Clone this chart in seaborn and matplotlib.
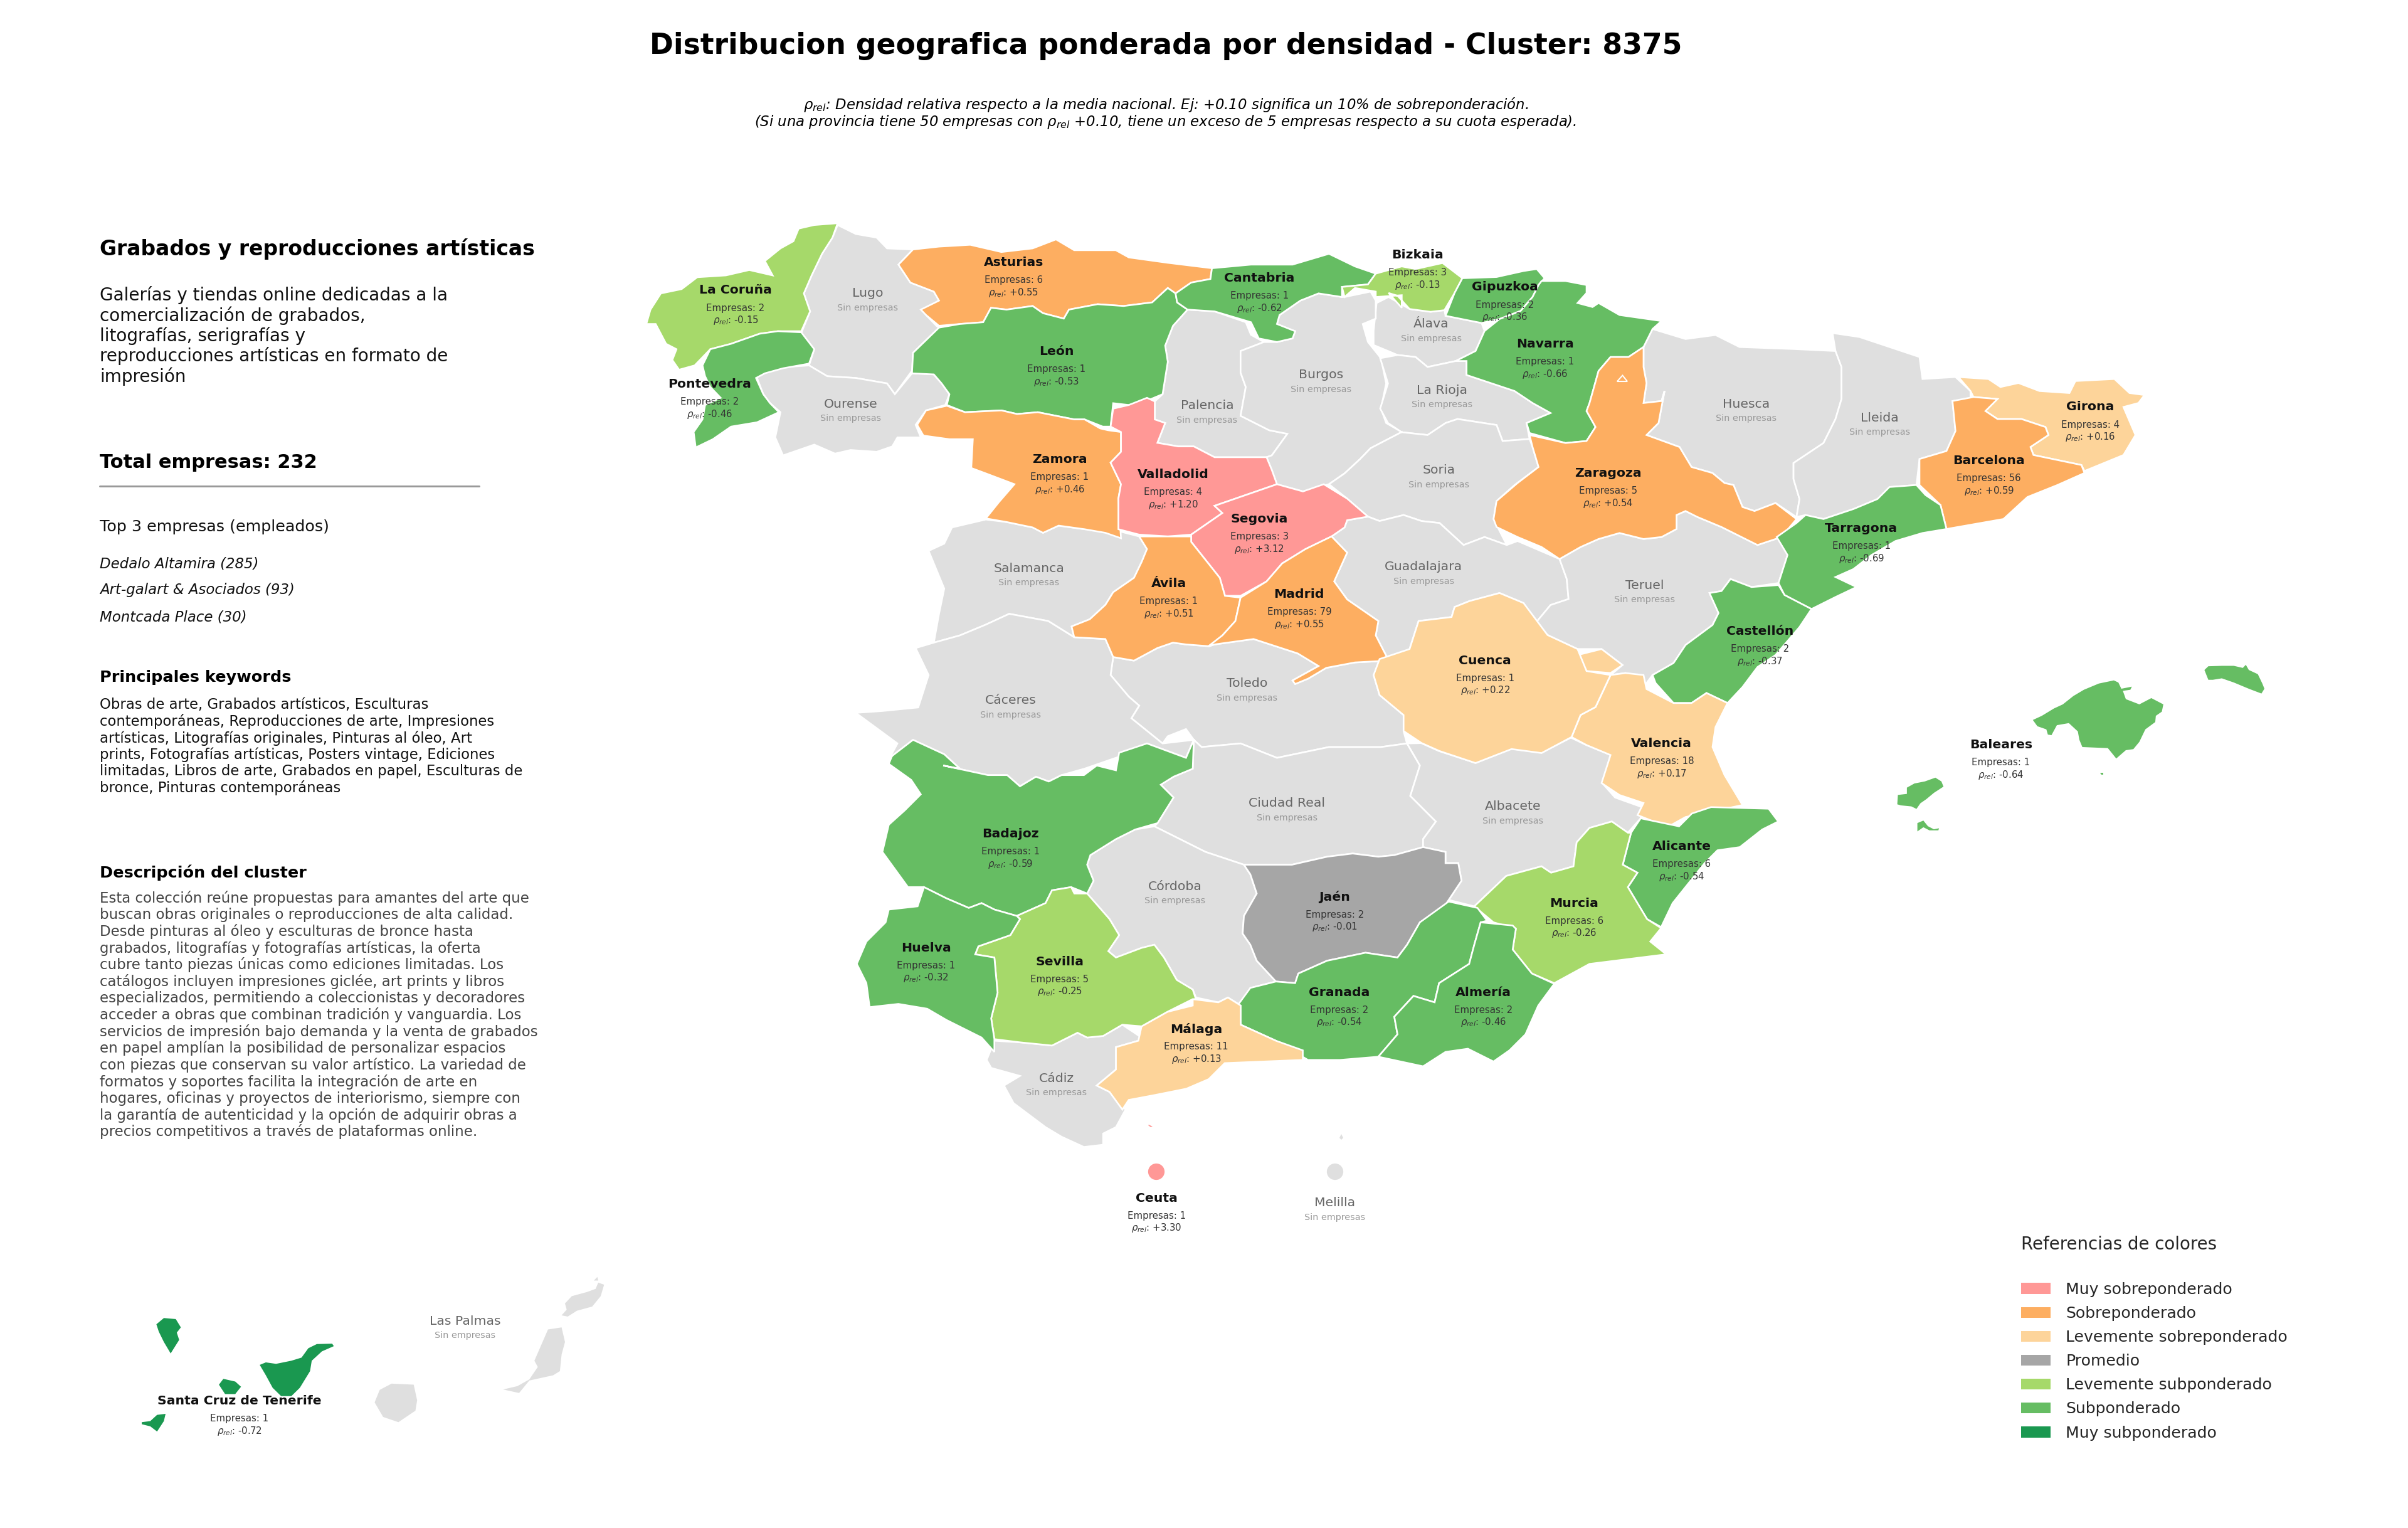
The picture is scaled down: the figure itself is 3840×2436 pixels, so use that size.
"""Distribucion geografica por provincia - cluster 8375."""
import matplotlib
matplotlib.use("Agg")
import matplotlib.pyplot as plt
import pandas as pd
import seaborn as sns
from matplotlib.patches import Patch


def z1(pts):
    return [(1000 + x * 1300 / 1568, 330 + y * 900 / 1568) for x, y in pts]


def z2(pts):
    return [(2200 + x * 1500 / 1568, 330 + y * 1000 / 1568) for x, y in pts]


def z3(pts):
    return [(1300 + x * 1600 / 1568, 1200 + y * 800 / 1568) for x, y in pts]


def zb(pts):
    return [(2950 + x * 750 / 1568, 1020 + y * 0.332) for x, y in pts]


def zc(pts):
    return [(180 + x * 850 / 1568, 2000 + y * 0.332) for x, y in pts]


LA_CORUNA = z1([(405,45),(395,85),(375,130),(355,190),(340,240),(352,290),(335,345),(290,345),(255,352),(200,380),(160,395),(130,440),(100,452),(87,425),(95,395),(75,380),(55,325),(37,325),(45,285),(65,240),(105,228),(135,195),(190,190),(235,175),(280,190),(265,150),(295,115),(320,95),(330,60),(360,50)])
PONTEVEDRA = z1([(335,348),(360,395),(350,435),(300,448),(265,462),(248,475),(262,520),(275,545),(292,570),(250,598),(200,610),(165,645),(132,668),(128,625),(145,590),(150,550),(180,530),(160,500),(150,470),(145,440),(160,395),(200,380),(255,352),(290,345)])
LUGO = z1([(405,50),(440,75),(480,85),(500,115),(550,118),(522,160),(545,210),(590,235),(600,260),(570,285),(575,300),(595,330),(600,335),(575,370),(550,405),(548,455),(515,520),(500,490),(440,475),(385,470),(350,440),(360,395),(335,350),(352,290),(340,240),(355,190),(375,130),(395,85)])
OURENSE = z1([(250,475),(265,445),(300,445),(350,440),(385,470),(440,475),(500,490),(515,520),(548,462),(590,465),(605,490),(620,520),(612,550),(575,565),(555,605),(565,640),(520,640),(510,665),(480,680),(430,675),(400,685),(360,660),(300,690),(285,640),(295,570),(275,545),(262,520)])
ASTURIAS = z1([(550,118),(600,110),(660,105),(720,125),(780,115),(825,90),(860,120),(940,120),(965,140),(1040,155),(1125,170),(1122,200),(1085,210),(1055,240),(1040,225),(1010,265),(955,275),(905,270),(850,285),(840,310),(800,295),(780,275),(730,285),(700,280),(685,320),(640,325),(600,330),(575,300),(565,285),(600,260),(590,235),(545,210),(522,160)])
LEON = z1([(600,335),(640,325),(685,320),(700,280),(730,285),(780,275),(800,295),(840,310),(850,285),(905,270),(955,275),(1010,265),(1040,225),(1055,240),(1058,265),(1078,285),(1050,330),(1035,385),(1040,430),(1030,520),(1005,535),(965,550),(935,545),(930,610),(915,610),(880,590),(860,590),(790,570),(750,575),(720,565),(650,570),(615,550),(620,520),(605,490),(590,465),(548,462),(550,405),(575,370)])
ZAMORA = z1([(615,552),(650,570),(720,565),(750,575),(790,570),(860,590),(880,590),(910,615),(925,620),(950,625),(950,680),(930,710),(950,770),(945,810),(950,920),(920,905),(880,895),(830,885),(800,905),(780,890),(730,875),(690,865),(715,820),(745,770),(690,740),(662,725),(665,645),(620,645),(570,635),(558,605),(575,565)])
VALLADOLID = z1([(935,560),(965,550),(1000,530),(1015,540),(1015,590),(1035,600),(1020,655),(1060,665),(1090,665),(1130,695),(1230,695),(1240,730),(1250,770),(1190,800),(1130,830),(1145,850),(1085,910),(1040,915),(985,910),(945,895),(945,810),(950,770),(930,710),(950,680),(950,625),(930,610)])
SEGOVIA = z1([(1130,830),(1190,800),(1250,770),(1300,790),(1340,770),(1385,810),(1425,860),(1385,870),(1380,890),(1355,915),(1305,950),(1260,990),(1230,1040),(1180,1080),(1150,1080),(1140,1030),(1085,930),(1085,910),(1145,850)])
AVILA = z1([(985,915),(1040,915),(1085,915),(1085,930),(1140,1030),(1150,1080),(1180,1085),(1170,1150),(1145,1190),(1120,1220),(1075,1215),(1050,1210),(1020,1225),(975,1260),(935,1250),(920,1200),(860,1195),(855,1165),(890,1145),(920,1105),(935,1070),(975,1030),(990,985),(1000,950)])
MADRID = z1([(1355,915),(1385,960),(1360,1040),(1385,1090),(1445,1150),(1440,1190),(1465,1260),(1400,1265),(1345,1280),(1310,1310),(1285,1325),(1280,1315),(1330,1275),(1290,1240),(1205,1200),(1130,1215),(1118,1220),(1145,1190),(1170,1150),(1180,1085),(1230,1040),(1260,990),(1305,950)])
SALAMANCA = z1([(690,868),(730,875),(780,890),(800,905),(830,885),(880,895),(945,900),(985,915),(1000,950),(990,985),(975,1030),(935,1070),(920,1105),(890,1145),(855,1165),(860,1195),(810,1150),(735,1130),(690,1160),(640,1190),(590,1210),(600,1130),(610,1060),(580,955),(610,935),(625,890)])
PALENCIA = z1([(1078,285),(1130,290),(1190,320),(1200,355),(1225,375),(1180,400),(1180,460),(1190,500),(1180,580),(1235,620),(1270,630),(1240,690),(1230,695),(1130,695),(1090,665),(1060,665),(1020,655),(1035,600),(1015,590),(1015,540),(1030,520),(1040,430),(1035,385),(1050,330)])
CANTABRIA = z1([(1125,170),(1200,160),(1280,160),(1350,130),(1400,165),(1440,185),(1425,215),(1375,222),(1375,250),(1330,240),(1295,260),(1255,300),(1250,325),(1285,345),(1280,365),(1250,375),(1215,365),(1200,320),(1130,290),(1078,285),(1058,265),(1055,240),(1085,210),(1122,200)])
BIZKAIA = z1([(1375,222),(1425,215),(1440,185),(1490,165)]) + z2([(60,155),(105,140),(138,178),(125,215),(108,258),(85,262),(50,255),(30,222),(15,215)]) + z1([(1490,280),(1490,245),(1440,250),(1440,235),(1400,225),(1380,250)])
GIPUZKOA = z2([(125,215),(138,178),(195,175),(240,160),(262,155),(275,178),(265,195),(255,225),(235,260),(200,280),(170,290),(110,272)])
NAVARRA = z2([(270,185),(310,185),(345,195),(345,215),(330,240),(355,250),(365,240),(400,270),(470,285),(455,305),(440,350),(415,375),(385,375),(365,410),(350,490),(345,510),(360,550),(345,585),(310,590),(250,565),(245,540),(285,515),(255,490),(225,460),(145,420),(145,385),(127,385),(160,360),(175,310),(200,280),(235,260),(255,225),(265,195)])
NAVARRA_PETILLA = z2([(396,436),(405,421),(413,436)])
ALAVA = z2([(15,225),(50,255),(85,262),(108,258),(110,272),(170,290),(175,310),(160,360),(127,385),(80,400),(60,375),(30,370),(-10,345),(-10,310),(-5,240)])
BURGOS = z1([(1225,375),(1250,375),(1280,365),(1285,345),(1250,325),(1255,300),(1295,260),(1330,240),(1375,250),(1380,250),(1430,235),(1440,260),(1440,310),(1415,325),(1425,375),(1450,420),(1460,490),(1450,560),(1460,600),(1490,625),(1430,670),(1410,700),(1380,740),(1350,770),(1300,790),(1250,770),(1240,730),(1230,695),(1240,690),(1270,630),(1235,620),(1180,580),(1190,500),(1180,460),(1180,400)])
LA_RIOJA = z2([(1,378),(30,370),(60,375),(80,400),(127,385),(145,385),(145,420),(225,460),(255,490),(285,515),(245,540),(250,580),(205,585),(195,545),(130,530),(110,540),(80,570),(37,563),(14,540),(1,504),(14,441)])
SORIA = z2([(37,563),(80,570),(110,540),(130,530),(195,545),(205,585),(250,580),(255,600),(265,650),(225,695),(195,735),(190,780),(212,845),(175,825),(140,845),(100,790),(70,785),(40,770),(0,785)]) + z1([(1425,860),(1385,810),(1350,770),(1380,740),(1410,700),(1430,670),(1490,625)])
GUADALAJARA = z1([(1425,860),(1385,870),(1380,890),(1355,915),(1385,960),(1360,1040),(1385,1090),(1445,1150),(1440,1190),(1465,1260)]) + z2([(50,1105),(65,1035),(120,1025),(125,1000),(150,985),(200,965),(240,990),(260,1040),(285,995),(315,980),(312,930),(300,880),(230,835),(212,845),(175,825),(140,845),(100,790),(70,785),(40,770),(0,785)])
ZARAGOZA = z2([(440,350),(440,400),(445,440),(440,490),(470,485),(475,460),(465,540),(445,570),(500,600),(520,650),(555,665),(575,690),(590,695),(605,750),(625,760),(660,740),(695,780),(670,825),(630,845),(570,800),(530,775),(510,760),(495,770),(495,805),(470,825),(440,830),(400,815),(365,830),(335,850),(300,880),(270,850),(230,825),(195,800),(190,780),(195,735),(230,690),(265,650),(255,600),(250,570),(310,590),(345,585),(360,550),(345,510),(350,490),(365,410),(385,375),(415,375)])
HUESCA = z2([(455,305),(510,330),(560,320),(600,350),(690,355),(760,360),(770,400),(770,480),(760,530),(740,590),(690,640),(690,680),(700,730),(695,775),(660,740),(625,760),(605,750),(590,695),(575,690),(555,665),(520,650),(500,600),(445,570),(465,540),(475,460),(470,485),(440,490),(445,440),(440,400),(440,350)])
LLEIDA = z2([(755,315),(800,325),(860,355),(900,375),(905,430),(960,425),(985,460),(985,480),(955,485),(960,560),(945,610),(900,630),(895,695),(850,700),(830,730),(790,755),(740,780),(710,770),(695,775),(700,730),(690,680),(690,640),(740,590),(760,530),(770,480),(770,400),(760,360)])
GIRONA = z2([(965,425),(1015,430),(1035,450),(1065,440),(1100,460),(1150,465),(1160,435),(1225,430),(1250,465),(1275,470),(1265,490),(1240,500),(1260,570),(1240,620),(1175,660),(1170,645),(1090,620),(1085,600),(1115,570),(1110,550),(1070,530),(1030,530),(1010,510),(1030,480),(990,475),(985,460)])
BARCELONA = z2([(955,485),(990,475),(1030,480),(1010,510),(1030,530),(1070,530),(1110,550),(1115,570),(1085,600),(1090,620),(1170,645),(1175,665),(1130,695),(1080,725),(1040,780),(945,805),(935,745),(900,695),(900,630),(945,610),(960,560)])
TARRAGONA = z2([(710,770),(740,780),(790,755),(830,730),(850,700),(895,695),(910,720),(935,745),(945,805),(905,815),(860,835),(820,870),(790,905),(760,925),(795,950),(760,975),(720,1005),(675,970),(665,940),(680,870),(662,825),(695,790)])
TERUEL = z2([(300,880),(335,850),(365,830),(400,815),(440,830),(470,825),(495,805),(495,770),(510,760),(530,775),(570,800),(630,845),(670,825),(680,870),(665,940),(620,950),(585,930),(570,960),(550,965),(565,1015),(555,1045),(510,1095),(490,1140),(455,1170),(440,1200),(410,1165),(385,1170),(405,1145),(370,1105),(330,1105),(280,1070),(260,1040),(285,995),(315,980),(312,930)])
CASTELLON = z2([(585,930),(620,950),(665,945),(675,970),(720,1005),(700,1050),(660,1120),(630,1150),(605,1200),(580,1240),(545,1215),(520,1240),(490,1240),(460,1190),(455,1170),(490,1140),(510,1095),(555,1045),(565,1015),(550,965),(570,960)])
VALENCIA = z2([(385,1170),(410,1165),(440,1170),(445,1205),(490,1240),(520,1240),(545,1215),(580,1240),(560,1300),(555,1350),(575,1420),(605,1495),(510,1525),(480,1550),(430,1520),(440,1490),(400,1470),(370,1440),(385,1370),(345,1345),(320,1325),(335,1270),(360,1250)])
VALENCIA_ADEMUZ = z2([(330,1120),(370,1105),(405,1145),(385,1165),(345,1160)])
CUENCA = z2([(0,1130),(50,1105),(65,1035),(120,1025),(125,1000),(150,985),(200,965),(240,990),(280,1070),(330,1105),(345,1160),(385,1170),(360,1250),(335,1270),(320,1325),(270,1365),(220,1355),(160,1390),(100,1360),(70,1340),(40,1310),(40,1270),(0,1220),(-10,1170)])
TOLEDO = z1([(935,1250),(975,1260),(1020,1225),(1050,1210),(1075,1215),(1120,1220),(1130,1215),(1205,1200),(1290,1240),(1330,1275),(1280,1315),(1285,1325),(1310,1310),(1345,1280),(1400,1265),(1465,1260)]) + z2([(-10,1170),(0,1220),(40,1270),(40,1310)]) + z1([(1500,1490),(1450,1500),(1350,1500),(1300,1515),(1250,1530),(1180,1490),(1105,1500),(1090,1480),(1075,1450),(1040,1470),(1030,1490),(970,1420),(985,1385),(965,1360),(930,1300)])
CACERES = z1([(590,1210),(640,1190),(690,1160),(735,1130),(810,1150),(860,1195),(920,1200),(935,1250),(930,1300),(965,1360),(985,1385),(970,1420),(1030,1490),(1090,1480),(1075,1530),(1000,1490),(985,1510),(940,1530),(880,1560)]) + z3([(385,70),(365,90),(345,75),(320,105),(300,70),(270,70),(200,40),(197,10)]) + z1([(640,1560),(610,1520),(550,1480),(505,1530),(520,1490),(440,1405),(490,1400),(560,1390),(580,1300),(555,1225)])
BADAJOZ = z1([(505,1530),(550,1480),(610,1520),(640,1560)]) + z3([(200,40),(270,70),(300,70),(320,105),(345,75),(365,90),(385,70),(420,70),(440,40),(470,55),(475,0)]) + z1([(1000,1490),(1075,1530),(1090,1480)]) + z3([(590,50),(560,75),(540,100),(560,140),(535,220),(500,240),(470,270),(430,320),(425,350),(435,400),(425,440),(400,420),(370,430),(360,470),(315,510),(280,490),(260,470),(240,485),(205,455),(170,420),(145,420),(105,310),(115,225),(140,180),(165,130),(150,85),(115,35),(120,10)])
CIUDAD_REAL = z1([(1090,1480),(1105,1500),(1180,1490),(1250,1530),(1300,1515),(1350,1500),(1450,1500),(1500,1490)]) + z3([(945,40),(930,135),(970,215),(950,270),(950,295),(905,320),(880,325),(840,315),(800,325),(745,350),(670,350),(610,310),(560,260),(530,230),(535,220),(560,140),(540,100),(560,75),(590,50)])
ALBACETE = z3([(925,-29),(945,40),(930,135),(970,215),(950,270),(950,295),(985,310),(985,345),(1005,345),(1010,400),(990,460),(1030,480),(1080,385),(1135,355),(1150,375),(1185,355),(1190,280),(1210,235),(1245,215),(1270,250),(1290,205),(1292,170),(1250,140),(1230,95),(1243,7),(1205,-24),(1181,-47),(1135,0),(1088,-12),(1032,32),(975,-5),(947,-30)])
ALICANTE = z3([(1290,205),(1350,230),(1370,190),(1400,170),(1490,175),(1505,215),(1480,240),(1445,295),(1410,305),(1390,345),(1360,420),(1340,470),(1322,545),(1300,520),(1285,470),(1270,420),(1285,375),(1262,350),(1275,250)])
MURCIA = z3([(1245,215),(1270,250),(1275,250),(1262,350),(1285,375),(1270,420),(1285,470),(1300,520),(1322,548),(1305,590),(1330,630),(1270,645),(1210,660),(1155,720),(1120,690),(1090,615),(1095,550),(1060,530),(1030,480),(1080,385),(1135,355),(1150,375),(1185,355),(1190,280),(1210,235)])
JAEN = z3([(670,350),(745,350),(800,325),(840,315),(880,325),(905,320),(950,295),(985,310),(985,345),(1005,345),(1010,400),(990,460),(980,490),(945,530),(925,600),(910,640),(860,625),(800,650),(755,690),(750,720),(720,715),(690,650),(680,600),(668,565),(670,510),(690,440),(680,380)])
CORDOBA = z3([(500,240),(530,230),(560,260),(610,310),(670,350),(680,380),(690,440),(670,510),(668,565),(680,600),(690,650),(720,715),(680,735),(665,790),(645,765),(630,780),(595,765),(590,740),(565,710),(545,640),(530,600),(510,610),(470,640),(458,620),(475,570),(460,520),(425,440),(435,400),(425,350),(430,320),(470,270)])
GRANADA = z3([(990,465),(1035,485),(1050,525),(1040,530),(1030,600),(1022,660),(975,720),(968,780),(935,760),(905,825),(910,880),(880,950),(820,960),(770,960),(720,900),(665,850),(660,790),(680,735),(720,715),(750,720),(755,690),(800,650),(860,625),(910,640),(925,600),(945,530)])
ALMERIA = z3([(1040,530),(1090,540),(1095,550),(1090,615),(1120,690),(1155,722),(1130,790),(1110,880),(1085,930),(1060,965),(1020,925),(985,935),(950,980),(880,950),(910,880),(905,825),(935,760),(968,780),(975,720),(1022,660),(1030,600)])
MALAGA = z3([(590,770),(630,780),(645,765),(665,790),(665,850),(720,900),(762,930),(762,960),(640,970),(615,1020),(580,1050),(530,1070),(490,1085),(480,1115),(460,1060),(440,1040),(470,990),(470,920),(505,900),(510,855),(550,810),(590,790)])
CADIZ = z3([(280,900),(320,905),(370,915),(410,875),(425,890),(450,885),(480,850),(510,890),(505,900),(470,920),(470,990),(440,1040),(460,1060),(485,1115),(470,1170),(450,1190),(450,1225),(420,1232),(385,1200),(360,1170),(310,1095),(295,1040),(320,1010),(275,985),(268,960)])
SEVILLA = z3([(315,510),(360,470),(370,430),(400,420),(405,440),(425,440),(460,520),(475,570),(458,620),(470,640),(510,610),(530,600),(545,640),(565,710),(590,740),(595,770),(590,770),(550,810),(510,855),(480,850),(450,885),(425,890),(410,875),(370,915),(320,905),(280,895),(275,830),(285,750),(280,640),(250,630),(255,605),(305,570),(320,520)])
HUELVA = z3([(170,420),(205,455),(240,485),(260,470),(280,490),(315,510),(320,520),(305,570),(255,605),(250,630),(280,640),(285,750),(275,830),(280,895),(280,935),(260,890),(205,835),(175,800),(130,785),(85,795),(80,720),(65,660),(80,590),(110,530),(115,490),(160,480)])

MALLORCA = zb([(610,385),(640,365),(680,330),(710,310),(745,270),(780,240),(830,210),(880,195),(895,205),(905,235),(940,225),(935,240),(910,245),(920,285),(965,310),(1005,280),(1045,310),(1040,345),(1020,365),(1018,395),(985,430),(965,490),(945,525),(920,530),(888,570),(860,520),(825,518),(775,515),(765,480),(760,440),(730,400),(690,410),(672,458),(660,455),(655,430),(625,415)])
MENORCA = zb([(1182,145),(1195,127),(1240,125),(1280,125),(1310,135),(1320,120),(1330,145),(1360,165),(1375,210),(1382,235),(1372,258),(1330,235),(1280,205),(1240,185),(1210,192),(1195,192)])
IBIZA = zb([(160,745),(190,740),(190,710),(215,690),(250,680),(285,662),(305,680),(312,705),(280,735),(255,765),(235,785),(222,812),(205,800),(170,795),(158,790)])
FORMENTERA = zb([(225,880),(245,868),(260,895),(280,910),(297,905),(295,915),(265,915),(245,900),(225,920)])
CABRERA = zb([(835,640),(845,640),(845,648),(838,648)])

LA_PALMA = zc([(128,335),(150,305),(185,310),(200,350),(188,375),(195,410),(170,475),(150,420),(135,370)])
LA_GOMERA = zc([(312,625),(325,597),(360,610),(377,635),(360,670),(330,670)])
TENERIFE = zc([(432,530),(450,518),(480,525),(525,510),(555,495),(575,450),(600,430),(645,428),(650,440),(615,465),(585,510),(580,560),(565,600),(550,640),(525,680),(495,680),(470,640),(450,580)])
EL_HIERRO = zc([(85,805),(110,800),(130,770),(155,765),(150,800),(130,850),(110,825),(85,815)])
GRAN_CANARIA = zc([(770,710),(785,650),(820,620),(885,625),(895,700),(890,750),(840,805),(795,780)])
FUERTEVENTURA = zc([(1148,648),(1190,632),(1225,600),(1250,540),(1240,510),(1280,360),(1320,350),(1330,420),(1320,480),(1315,560),(1295,580),(1225,605),(1195,665)])
LANZAROTE = zc([(1320,292),(1335,265),(1330,235),(1350,200),(1395,180),(1420,165),(1428,135),(1445,145),(1435,200),(1410,250),(1365,270),(1338,298)])
GRACIOSA = zc([(1415,125),(1425,108),(1428,125)])
CEUTA_TINY = [(1832, 1793), (1838, 1796), (1835, 1797), (1831, 1794)]
MELILLA_TINY = [(2139, 1808), (2142, 1814), (2139, 1817), (2136, 1814)]

# provinces with companies: name, count, relative density, label position
ACTIVE = ["La Coruña", "Pontevedra", "Asturias", "Cantabria", "Bizkaia", "Gipuzkoa", "Navarra", "León", "Zamora",
          "Valladolid", "Segovia", "Ávila", "Madrid", "Zaragoza", "Barcelona", "Girona", "Tarragona", "Castellón",
          "Cuenca", "Valencia", "Baleares", "Alicante", "Murcia", "Jaén", "Badajoz", "Huelva", "Sevilla", "Granada",
          "Almería", "Málaga", "Santa Cruz de Tenerife", "Ceuta"]
EMPRESAS = [2, 2, 6, 1, 3, 2, 1, 1, 1, 4, 3, 1, 79, 5, 56, 4, 1, 2, 1, 18, 1, 6, 6, 2, 1, 1, 5, 2, 2, 11, 1, 1]
RHO = [-0.15, -0.46, 0.55, -0.62, -0.13, -0.36, -0.66, -0.53, 0.46, 1.20, 3.12, 0.51, 0.55, 0.54, 0.59, 0.16, -0.69,
       -0.37, 0.22, 0.17, -0.64, -0.54, -0.26, -0.01, -0.59, -0.32, -0.25, -0.54, -0.46, 0.13, -0.72, 3.30]
ACTIVE_X = [479, 462, 660, 820, 923, 980, 1006, 688, 690, 764, 820, 761, 846, 1047, 1295, 1361, 1212, 1146, 967, 1082,
            1303, 1095, 1025, 869, 658, 603, 690, 872, 966, 779, 156, 753]
ACTIVE_Y = [189, 250, 171, 181, 166, 187, 224, 229, 299, 309, 338, 380, 387, 308, 300, 265, 344, 411, 430, 484, 485,
            551, 588, 584, 543, 617, 626, 646, 646, 670, 912, 780]

EMPTY = ["Lugo", "Ourense", "Palencia", "Burgos", "Álava", "La Rioja", "Soria", "Huesca", "Lleida", "Salamanca",
         "Guadalajara", "Teruel", "Cáceres", "Toledo", "Ciudad Real", "Albacete", "Córdoba", "Cádiz", "Melilla",
         "Las Palmas"]
EMPTY_X = [565, 554, 786, 860, 932, 939, 937, 1137, 1224, 670, 927, 1071, 658, 812, 838, 985, 765, 688, 869, 303]
EMPTY_Y = [191, 263, 264, 244, 211, 254, 306, 263, 272, 370, 369, 381, 456, 445, 523, 525, 577, 702, 783, 860]

OUTLINES = {
    "La Coruña": [LA_CORUNA], "Pontevedra": [PONTEVEDRA], "Lugo": [LUGO], "Ourense": [OURENSE],
    "Asturias": [ASTURIAS], "León": [LEON], "Zamora": [ZAMORA], "Valladolid": [VALLADOLID], "Segovia": [SEGOVIA],
    "Ávila": [AVILA], "Madrid": [MADRID], "Salamanca": [SALAMANCA], "Palencia": [PALENCIA],
    "Cantabria": [CANTABRIA], "Bizkaia": [BIZKAIA], "Gipuzkoa": [GIPUZKOA], "Navarra": [NAVARRA], "Álava": [ALAVA],
    "Burgos": [BURGOS], "La Rioja": [LA_RIOJA], "Soria": [SORIA], "Guadalajara": [GUADALAJARA],
    "Zaragoza": [ZARAGOZA], "Huesca": [HUESCA], "Lleida": [LLEIDA], "Girona": [GIRONA], "Barcelona": [BARCELONA],
    "Tarragona": [TARRAGONA], "Teruel": [TERUEL], "Castellón": [CASTELLON], "Valencia": [VALENCIA, VALENCIA_ADEMUZ],
    "Cuenca": [CUENCA], "Toledo": [TOLEDO], "Cáceres": [CACERES], "Badajoz": [BADAJOZ], "Ciudad Real": [CIUDAD_REAL],
    "Albacete": [ALBACETE], "Alicante": [ALICANTE], "Murcia": [MURCIA], "Jaén": [JAEN], "Córdoba": [CORDOBA],
    "Granada": [GRANADA], "Almería": [ALMERIA], "Málaga": [MALAGA], "Cádiz": [CADIZ], "Sevilla": [SEVILLA],
    "Huelva": [HUELVA], "Baleares": [MALLORCA, MENORCA, IBIZA, FORMENTERA, CABRERA],
    "Santa Cruz de Tenerife": [LA_PALMA, LA_GOMERA, TENERIFE, EL_HIERRO],
    "Las Palmas": [GRAN_CANARIA, FUERTEVENTURA, LANZAROTE, GRACIOSA],
    "Ceuta": [CEUTA_TINY], "Melilla": [MELILLA_TINY],
}
ISLANDS = ["Santa Cruz de Tenerife", "Las Palmas", "Baleares", "Ceuta", "Melilla"]

LEVELS = ["Muy sobreponderado", "Sobreponderado", "Levemente sobreponderado", "Promedio", "Levemente subponderado",
          "Subponderado", "Muy subponderado"]
LEVEL_COLORS = ["#ff9896", "#fdae61", "#fdd49a", "#a6a6a6", "#a6d96a", "#66bd63", "#1a9850"]
EMPTY_COLOR = "#dfdfdf"

KEYWORDS = ["Obras de arte, Grabados artísticos, Esculturas",
            "contemporáneas, Reproducciones de arte, Impresiones",
            "artísticas, Litografías originales, Pinturas al óleo, Art",
            "prints, Fotografías artísticas, Posters vintage, Ediciones",
            "limitadas, Libros de arte, Grabados en papel, Esculturas de",
            "bronce, Pinturas contemporáneas"]
INTRO = ["Galerías y tiendas online dedicadas a la", "comercialización de grabados,", "litografías, serigrafías y",
         "reproducciones artísticas en formato de", "impresión"]
TOP3 = ["Dedalo Altamira (285)", "Art-galart & Asociados (93)", "Montcada Place (30)"]
TOP3_Y = [367, 384, 402]
DESCRIPTION = ["Esta colección reúne propuestas para amantes del arte que",
               "buscan obras originales o reproducciones de alta calidad.",
               "Desde pinturas al óleo y esculturas de bronce hasta",
               "grabados, litografías y fotografías artísticas, la oferta",
               "cubre tanto piezas únicas como ediciones limitadas. Los",
               "catálogos incluyen impresiones giclée, art prints y libros",
               "especializados, permitiendo a coleccionistas y decoradores",
               "acceder a obras que combinan tradición y vanguardia. Los",
               "servicios de impresión bajo demanda y la venta de grabados",
               "en papel amplían la posibilidad de personalizar espacios",
               "con piezas que conservan su valor artístico. La variedad de",
               "formatos y soportes facilita la integración de arte en",
               "hogares, oficinas y proyectos de interiorismo, siempre con",
               "la garantía de autenticidad y la opción de adquirir obras a",
               "precios competitivos a través de plataformas online."]

DOTS = pd.DataFrame({"x": [1844, 2129], "y": [1868, 1868], "province": ["Ceuta", "Melilla"]})


def level_of(rho):
    for limit, level in zip([1.0, 0.3, 0.05, -0.05, -0.3, -0.7], LEVELS):
        if rho >= limit:
            return level
    return LEVELS[-1]


sns.set_theme(style="white")
plt.rcParams["font.family"] = "DejaVu Sans"
palette = dict(zip(LEVELS, sns.color_palette(LEVEL_COLORS)))
colors = {name: palette[level_of(r)] for name, r in zip(ACTIVE, RHO)}
colors.update({name: EMPTY_COLOR for name in EMPTY})

fig = plt.figure(figsize=(16, 10.15), dpi=240)
ax = fig.add_axes([0, 0, 1, 1])
ax.set_xlim(0, 3840)
ax.set_ylim(2436, 0)
ax.axis("off")

# grey ones first so the coloured provinces sit on top of small gaps
for name in sorted(OUTLINES, key=lambda p: colors[p] != EMPTY_COLOR):
    for part in OUTLINES[name]:
        xs, ys = zip(*part)
        ax.fill(xs, ys, facecolor=colors[name], edgecolor="white", linewidth=0 if name in ISLANDS else 0.8, zorder=2)
xs, ys = zip(*NAVARRA_PETILLA)
ax.fill(xs, ys, facecolor=colors["Zaragoza"], edgecolor="white", linewidth=0.6, zorder=3)

sns.scatterplot(data=DOTS, x="x", y="y", hue="province", palette={p: colors[p] for p in DOTS["province"]}, s=62,
                linewidth=0, legend=False, ax=ax, zorder=2)
ax.set_xlabel("")
ax.set_ylabel("")


def put(x, y, text, **kw):
    ax.text(x * 2.449, y * 2.449, text, ha=kw.pop("ha", "center"), va=kw.pop("va", "center"), zorder=5, **kw)


for name, e, r, x, y in zip(ACTIVE, EMPRESAS, RHO, ACTIVE_X, ACTIVE_Y):
    put(x, y, name, fontsize=6.1, fontweight="bold", color="#111111")
    put(x, y + 11.5, f"Empresas: {e}", fontsize=4.5, color="#333333")
    put(x, y + 19.5, rf"$\rho_{{rel}}$: {r:+.2f}", fontsize=4.5, color="#333333")

for name, x, y in zip(EMPTY, EMPTY_X, EMPTY_Y):
    put(x, y, name, fontsize=6.1, color="#666666")
    put(x, y + 9.5, "Sin empresas", fontsize=4.3, color="#999999")

put(759, 30, "Distribucion geografica ponderada por densidad - Cluster: 8375", fontsize=13.7, fontweight="bold",
    color="black")
put(759, 68, r"$\rho_{rel}$: Densidad relativa respecto a la media nacional. Ej: +0.10 significa un 10% de sobreponderación.",
    fontsize=6.82, fontstyle="italic", color="black")
put(759, 79.5, r"(Si una provincia tiene 50 empresas con $\rho_{rel}$ +0.10, tiene un exceso de 5 empresas respecto a su cuota esperada).",
    fontsize=6.82, fontstyle="italic", color="black")

put(65, 162, "Grabados y reproducciones artísticas", ha="left", fontsize=9.9, fontweight="bold", color="black")
put(65, 186, "\n".join(INTRO), ha="left", va="top", fontsize=8.35, linespacing=1.15, color="#111111")
put(65, 301, "Total empresas: 232", ha="left", fontsize=9.15, fontweight="bold", color="black")
ax.plot([65 * 2.449, 312 * 2.449], [316.5 * 2.449, 316.5 * 2.449], color="#999999", linewidth=0.9, zorder=3)
put(65, 343, "Top 3 empresas (empleados)", ha="left", fontsize=7.6, color="#111111")
for text, y in zip(TOP3, TOP3_Y):
    put(65, y, text, ha="left", fontsize=6.85, fontstyle="italic", color="#111111")
put(65, 441, "Principales keywords", ha="left", fontsize=7.65, fontweight="bold", color="black")
put(65, 454, "\n".join(KEYWORDS), ha="left", va="top", fontsize=6.83, linespacing=1.16, color="#111111")
put(65, 568, "Descripción del cluster", ha="left", fontsize=7.65, fontweight="bold", color="black")
put(65, 580, "\n".join(DESCRIPTION), ha="left", va="top", fontsize=6.85, linespacing=1.155, color="#444444")

handles = [Patch(facecolor=palette[level], edgecolor="none", label=level) for level in LEVELS]
legend = ax.legend(handles=handles, title="Referencias de colores\n", loc="upper left", frameon=False,
                   bbox_to_anchor=(1308 * 2.449 / 3840, 1 - 796 * 2.449 / 2436), fontsize=7.55, title_fontsize=8.3,
                   labelspacing=0.56, handlelength=1.85, handleheight=0.7, handletextpad=0.97, borderpad=0.3)
legend._legend_box.align = "left"
sns.despine(ax=ax, left=True, bottom=True)

fig.savefig("out.png", dpi=240, facecolor="white")
